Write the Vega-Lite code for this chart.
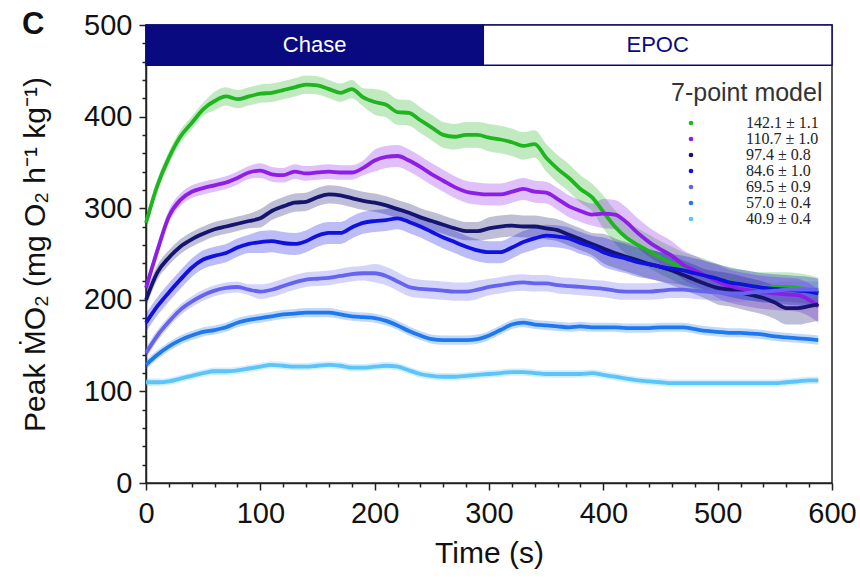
{
  "$schema": "https://vega.github.io/schema/vega-lite/v6.json",
  "width": 686,
  "height": 458,
  "autosize": {"type": "none"},
  "padding": {"left": 146, "top": 25, "right": 28, "bottom": 96},
  "background": "white",
  "config": {"font": "Liberation Sans", "view": {"stroke": "#222", "strokeWidth": 1.5}},
  "title": {"text": "C", "anchor": "start", "frame": "group", "fontSize": 31, "fontWeight": "bold", "font": "Liberation Sans", "color": "#111", "dx": -124, "dy": 30, "offset": 0},
  "resolve": {"axis": {"x": "independent", "y": "independent"}},
  "datasets": {
    "bands": [
      {"phase": "Chase", "start": 0, "end": 295},
      {"phase": "EPOC", "start": 295, "end": 600}
    ],
    "curves": [
      {"s":"a","t":0,"v":284,"lo":277,"hi":291},{"s":"a","t":10,"v":325,"lo":318,"hi":332},{"s":"a","t":20,"v":355,"lo":348,"hi":362},{"s":"a","t":30,"v":378,"lo":371,"hi":385},{"s":"a","t":40,"v":393,"lo":386,"hi":400},{"s":"a","t":50,"v":408,"lo":401,"hi":415},{"s":"a","t":60,"v":417,"lo":407,"hi":427},{"s":"a","t":70,"v":422,"lo":412,"hi":432},{"s":"a","t":80,"v":419,"lo":409,"hi":429},{"s":"a","t":90,"v":422,"lo":412,"hi":432},{"s":"a","t":100,"v":425,"lo":415,"hi":435},{"s":"a","t":110,"v":426,"lo":416,"hi":436},{"s":"a","t":120,"v":429,"lo":419,"hi":439},{"s":"a","t":130,"v":432,"lo":422,"hi":442},{"s":"a","t":140,"v":435,"lo":425,"hi":445},{"s":"a","t":150,"v":434,"lo":424,"hi":444},{"s":"a","t":160,"v":430,"lo":420,"hi":440},{"s":"a","t":170,"v":426,"lo":416,"hi":436},{"s":"a","t":180,"v":430,"lo":420,"hi":440},{"s":"a","t":190,"v":421,"lo":411,"hi":431},{"s":"a","t":200,"v":416,"lo":402,"hi":430},{"s":"a","t":210,"v":413,"lo":399,"hi":427},{"s":"a","t":220,"v":405,"lo":391,"hi":419},{"s":"a","t":230,"v":404,"lo":390,"hi":418},{"s":"a","t":240,"v":396,"lo":382,"hi":410},{"s":"a","t":250,"v":388,"lo":374,"hi":402},{"s":"a","t":260,"v":380,"lo":366,"hi":394},{"s":"a","t":270,"v":378,"lo":364,"hi":392},{"s":"a","t":280,"v":380,"lo":366,"hi":394},{"s":"a","t":290,"v":380,"lo":366,"hi":394},{"s":"a","t":300,"v":377,"lo":362,"hi":392},{"s":"a","t":310,"v":375,"lo":360,"hi":390},{"s":"a","t":320,"v":372,"lo":357,"hi":387},{"s":"a","t":330,"v":368,"lo":353,"hi":383},{"s":"a","t":340,"v":370,"lo":355,"hi":385},{"s":"a","t":350,"v":355,"lo":340,"hi":370},{"s":"a","t":360,"v":343,"lo":328,"hi":358},{"s":"a","t":370,"v":333,"lo":318,"hi":348},{"s":"a","t":380,"v":321,"lo":306,"hi":336},{"s":"a","t":390,"v":312,"lo":297,"hi":327},{"s":"a","t":400,"v":296,"lo":278,"hi":314},{"s":"a","t":410,"v":280,"lo":262,"hi":298},{"s":"a","t":420,"v":268,"lo":250,"hi":286},{"s":"a","t":430,"v":260,"lo":242,"hi":278},{"s":"a","t":440,"v":253,"lo":235,"hi":271},{"s":"a","t":450,"v":246,"lo":228,"hi":264},{"s":"a","t":460,"v":240,"lo":222,"hi":258},{"s":"a","t":470,"v":234,"lo":216,"hi":252},{"s":"a","t":480,"v":230,"lo":212,"hi":248},{"s":"a","t":490,"v":226,"lo":208,"hi":244},{"s":"a","t":500,"v":223,"lo":207,"hi":239},{"s":"a","t":510,"v":220,"lo":204,"hi":236},{"s":"a","t":520,"v":217,"lo":201,"hi":233},{"s":"a","t":530,"v":215,"lo":199,"hi":231},{"s":"a","t":540,"v":214,"lo":198,"hi":230},{"s":"a","t":550,"v":214,"lo":198,"hi":230},{"s":"a","t":560,"v":214,"lo":198,"hi":230},{"s":"a","t":570,"v":213,"lo":197,"hi":229},{"s":"a","t":580,"v":211,"lo":195,"hi":227},{"s":"a","t":588,"v":208,"lo":192,"hi":224},
      {"s":"b","t":0,"v":213,"lo":206,"hi":220},{"s":"b","t":10,"v":254,"lo":247,"hi":261},{"s":"b","t":20,"v":291,"lo":284,"hi":298},{"s":"b","t":30,"v":309,"lo":302,"hi":316},{"s":"b","t":40,"v":318,"lo":311,"hi":325},{"s":"b","t":50,"v":322,"lo":315,"hi":329},{"s":"b","t":60,"v":325,"lo":318,"hi":332},{"s":"b","t":70,"v":328,"lo":321,"hi":335},{"s":"b","t":80,"v":333,"lo":326,"hi":340},{"s":"b","t":90,"v":339,"lo":332,"hi":346},{"s":"b","t":100,"v":341,"lo":333,"hi":349},{"s":"b","t":110,"v":337,"lo":329,"hi":345},{"s":"b","t":120,"v":336,"lo":328,"hi":344},{"s":"b","t":130,"v":340,"lo":332,"hi":348},{"s":"b","t":140,"v":338,"lo":330,"hi":346},{"s":"b","t":150,"v":339,"lo":331,"hi":347},{"s":"b","t":160,"v":340,"lo":332,"hi":348},{"s":"b","t":170,"v":339,"lo":331,"hi":347},{"s":"b","t":180,"v":339,"lo":331,"hi":347},{"s":"b","t":190,"v":344,"lo":336,"hi":352},{"s":"b","t":200,"v":352,"lo":340,"hi":364},{"s":"b","t":210,"v":356,"lo":344,"hi":368},{"s":"b","t":220,"v":357,"lo":345,"hi":369},{"s":"b","t":230,"v":352,"lo":340,"hi":364},{"s":"b","t":240,"v":345,"lo":333,"hi":357},{"s":"b","t":250,"v":337,"lo":325,"hi":349},{"s":"b","t":260,"v":330,"lo":318,"hi":342},{"s":"b","t":270,"v":323,"lo":311,"hi":335},{"s":"b","t":280,"v":318,"lo":306,"hi":330},{"s":"b","t":290,"v":316,"lo":304,"hi":328},{"s":"b","t":300,"v":315,"lo":303,"hi":327},{"s":"b","t":310,"v":315,"lo":303,"hi":327},{"s":"b","t":320,"v":318,"lo":306,"hi":330},{"s":"b","t":330,"v":321,"lo":309,"hi":333},{"s":"b","t":340,"v":318,"lo":306,"hi":330},{"s":"b","t":350,"v":317,"lo":305,"hi":329},{"s":"b","t":360,"v":310,"lo":298,"hi":322},{"s":"b","t":370,"v":302,"lo":290,"hi":314},{"s":"b","t":380,"v":297,"lo":285,"hi":309},{"s":"b","t":390,"v":293,"lo":281,"hi":305},{"s":"b","t":400,"v":294,"lo":278,"hi":310},{"s":"b","t":410,"v":293,"lo":277,"hi":309},{"s":"b","t":420,"v":285,"lo":269,"hi":301},{"s":"b","t":430,"v":273,"lo":257,"hi":289},{"s":"b","t":440,"v":263,"lo":247,"hi":279},{"s":"b","t":450,"v":255,"lo":239,"hi":271},{"s":"b","t":460,"v":248,"lo":232,"hi":264},{"s":"b","t":470,"v":238,"lo":222,"hi":254},{"s":"b","t":480,"v":232,"lo":216,"hi":248},{"s":"b","t":490,"v":226,"lo":210,"hi":242},{"s":"b","t":500,"v":220,"lo":202,"hi":238},{"s":"b","t":510,"v":215,"lo":197,"hi":233},{"s":"b","t":520,"v":212,"lo":194,"hi":230},{"s":"b","t":530,"v":210,"lo":192,"hi":228},{"s":"b","t":540,"v":208,"lo":190,"hi":226},{"s":"b","t":550,"v":207,"lo":189,"hi":225},{"s":"b","t":560,"v":206,"lo":188,"hi":224},{"s":"b","t":570,"v":205,"lo":187,"hi":223},{"s":"b","t":580,"v":200,"lo":182,"hi":218},{"s":"b","t":588,"v":193,"lo":175,"hi":211},
      {"s":"c","t":0,"v":200,"lo":192,"hi":208},{"s":"c","t":10,"v":230,"lo":222,"hi":238},{"s":"c","t":20,"v":246,"lo":238,"hi":254},{"s":"c","t":30,"v":258,"lo":250,"hi":266},{"s":"c","t":40,"v":266,"lo":258,"hi":274},{"s":"c","t":50,"v":272,"lo":264,"hi":280},{"s":"c","t":60,"v":277,"lo":269,"hi":285},{"s":"c","t":70,"v":280,"lo":272,"hi":288},{"s":"c","t":80,"v":283,"lo":275,"hi":291},{"s":"c","t":90,"v":286,"lo":278,"hi":294},{"s":"c","t":100,"v":289,"lo":279,"hi":299},{"s":"c","t":110,"v":297,"lo":287,"hi":307},{"s":"c","t":120,"v":302,"lo":292,"hi":312},{"s":"c","t":130,"v":306,"lo":296,"hi":316},{"s":"c","t":140,"v":307,"lo":297,"hi":317},{"s":"c","t":150,"v":312,"lo":302,"hi":322},{"s":"c","t":160,"v":315,"lo":305,"hi":325},{"s":"c","t":170,"v":314,"lo":304,"hi":324},{"s":"c","t":180,"v":311,"lo":301,"hi":321},{"s":"c","t":190,"v":308,"lo":298,"hi":318},{"s":"c","t":200,"v":306,"lo":296,"hi":316},{"s":"c","t":210,"v":303,"lo":293,"hi":313},{"s":"c","t":220,"v":299,"lo":289,"hi":309},{"s":"c","t":230,"v":295,"lo":285,"hi":305},{"s":"c","t":240,"v":290,"lo":280,"hi":300},{"s":"c","t":250,"v":286,"lo":276,"hi":296},{"s":"c","t":260,"v":282,"lo":272,"hi":292},{"s":"c","t":270,"v":278,"lo":268,"hi":288},{"s":"c","t":280,"v":275,"lo":265,"hi":285},{"s":"c","t":290,"v":275,"lo":265,"hi":285},{"s":"c","t":300,"v":278,"lo":266,"hi":290},{"s":"c","t":310,"v":280,"lo":268,"hi":292},{"s":"c","t":320,"v":281,"lo":269,"hi":293},{"s":"c","t":330,"v":280,"lo":268,"hi":292},{"s":"c","t":340,"v":280,"lo":268,"hi":292},{"s":"c","t":350,"v":278,"lo":266,"hi":290},{"s":"c","t":360,"v":276,"lo":264,"hi":288},{"s":"c","t":370,"v":271,"lo":259,"hi":283},{"s":"c","t":380,"v":266,"lo":254,"hi":278},{"s":"c","t":390,"v":261,"lo":249,"hi":273},{"s":"c","t":400,"v":256,"lo":240,"hi":272},{"s":"c","t":410,"v":251,"lo":235,"hi":267},{"s":"c","t":420,"v":247,"lo":231,"hi":263},{"s":"c","t":430,"v":243,"lo":227,"hi":259},{"s":"c","t":440,"v":239,"lo":223,"hi":255},{"s":"c","t":450,"v":236,"lo":220,"hi":252},{"s":"c","t":460,"v":232,"lo":216,"hi":248},{"s":"c","t":470,"v":227,"lo":211,"hi":243},{"s":"c","t":480,"v":222,"lo":206,"hi":238},{"s":"c","t":490,"v":217,"lo":201,"hi":233},{"s":"c","t":500,"v":213,"lo":195,"hi":231},{"s":"c","t":510,"v":211,"lo":193,"hi":229},{"s":"c","t":520,"v":208,"lo":190,"hi":226},{"s":"c","t":530,"v":205,"lo":187,"hi":223},{"s":"c","t":540,"v":202,"lo":184,"hi":220},{"s":"c","t":550,"v":197,"lo":179,"hi":215},{"s":"c","t":560,"v":191,"lo":173,"hi":209},{"s":"c","t":570,"v":191,"lo":173,"hi":209},{"s":"c","t":580,"v":193,"lo":175,"hi":211},{"s":"c","t":588,"v":195,"lo":177,"hi":213},
      {"s":"d","t":0,"v":175,"lo":165,"hi":185},{"s":"d","t":10,"v":193,"lo":183,"hi":203},{"s":"d","t":20,"v":208,"lo":198,"hi":218},{"s":"d","t":30,"v":222,"lo":212,"hi":232},{"s":"d","t":40,"v":235,"lo":225,"hi":245},{"s":"d","t":50,"v":244,"lo":234,"hi":254},{"s":"d","t":60,"v":248,"lo":238,"hi":258},{"s":"d","t":70,"v":251,"lo":241,"hi":261},{"s":"d","t":80,"v":257,"lo":247,"hi":267},{"s":"d","t":90,"v":261,"lo":251,"hi":271},{"s":"d","t":100,"v":263,"lo":251,"hi":275},{"s":"d","t":110,"v":264,"lo":252,"hi":276},{"s":"d","t":120,"v":262,"lo":250,"hi":274},{"s":"d","t":130,"v":261,"lo":249,"hi":273},{"s":"d","t":140,"v":264,"lo":252,"hi":276},{"s":"d","t":150,"v":270,"lo":258,"hi":282},{"s":"d","t":160,"v":273,"lo":261,"hi":285},{"s":"d","t":170,"v":273,"lo":261,"hi":285},{"s":"d","t":180,"v":279,"lo":267,"hi":291},{"s":"d","t":190,"v":284,"lo":272,"hi":296},{"s":"d","t":200,"v":286,"lo":274,"hi":298},{"s":"d","t":210,"v":287,"lo":275,"hi":299},{"s":"d","t":220,"v":289,"lo":277,"hi":301},{"s":"d","t":230,"v":285,"lo":273,"hi":297},{"s":"d","t":240,"v":280,"lo":268,"hi":292},{"s":"d","t":250,"v":274,"lo":262,"hi":286},{"s":"d","t":260,"v":268,"lo":256,"hi":280},{"s":"d","t":270,"v":263,"lo":251,"hi":275},{"s":"d","t":280,"v":258,"lo":246,"hi":270},{"s":"d","t":290,"v":254,"lo":242,"hi":266},{"s":"d","t":300,"v":252,"lo":240,"hi":264},{"s":"d","t":310,"v":252,"lo":240,"hi":264},{"s":"d","t":320,"v":257,"lo":245,"hi":269},{"s":"d","t":330,"v":263,"lo":251,"hi":275},{"s":"d","t":340,"v":267,"lo":255,"hi":279},{"s":"d","t":350,"v":270,"lo":258,"hi":282},{"s":"d","t":360,"v":269,"lo":257,"hi":281},{"s":"d","t":370,"v":267,"lo":255,"hi":279},{"s":"d","t":380,"v":262,"lo":250,"hi":274},{"s":"d","t":390,"v":258,"lo":246,"hi":270},{"s":"d","t":400,"v":252,"lo":236,"hi":268},{"s":"d","t":410,"v":248,"lo":232,"hi":264},{"s":"d","t":420,"v":245,"lo":229,"hi":261},{"s":"d","t":430,"v":241,"lo":225,"hi":257},{"s":"d","t":440,"v":239,"lo":223,"hi":255},{"s":"d","t":450,"v":236,"lo":220,"hi":252},{"s":"d","t":460,"v":234,"lo":218,"hi":250},{"s":"d","t":470,"v":232,"lo":216,"hi":248},{"s":"d","t":480,"v":229,"lo":213,"hi":245},{"s":"d","t":490,"v":226,"lo":210,"hi":242},{"s":"d","t":500,"v":223,"lo":207,"hi":239},{"s":"d","t":510,"v":219,"lo":203,"hi":235},{"s":"d","t":520,"v":217,"lo":201,"hi":233},{"s":"d","t":530,"v":215,"lo":199,"hi":231},{"s":"d","t":540,"v":213,"lo":197,"hi":229},{"s":"d","t":550,"v":212,"lo":196,"hi":228},{"s":"d","t":560,"v":211,"lo":195,"hi":227},{"s":"d","t":570,"v":210,"lo":194,"hi":226},{"s":"d","t":580,"v":209,"lo":193,"hi":225},{"s":"d","t":588,"v":207,"lo":191,"hi":223},
      {"s":"e","t":0,"v":142,"lo":136,"hi":148},{"s":"e","t":10,"v":161,"lo":155,"hi":167},{"s":"e","t":20,"v":176,"lo":170,"hi":182},{"s":"e","t":30,"v":189,"lo":183,"hi":195},{"s":"e","t":40,"v":198,"lo":192,"hi":204},{"s":"e","t":50,"v":205,"lo":199,"hi":211},{"s":"e","t":60,"v":210,"lo":204,"hi":216},{"s":"e","t":70,"v":213,"lo":207,"hi":219},{"s":"e","t":80,"v":214,"lo":208,"hi":220},{"s":"e","t":90,"v":211,"lo":205,"hi":217},{"s":"e","t":100,"v":209,"lo":201,"hi":217},{"s":"e","t":110,"v":211,"lo":203,"hi":219},{"s":"e","t":120,"v":215,"lo":207,"hi":223},{"s":"e","t":130,"v":219,"lo":211,"hi":227},{"s":"e","t":140,"v":222,"lo":214,"hi":230},{"s":"e","t":150,"v":223,"lo":215,"hi":231},{"s":"e","t":160,"v":224,"lo":216,"hi":232},{"s":"e","t":170,"v":226,"lo":218,"hi":234},{"s":"e","t":180,"v":228,"lo":220,"hi":236},{"s":"e","t":190,"v":229,"lo":221,"hi":237},{"s":"e","t":200,"v":229,"lo":219,"hi":239},{"s":"e","t":210,"v":226,"lo":216,"hi":236},{"s":"e","t":220,"v":220,"lo":210,"hi":230},{"s":"e","t":230,"v":214,"lo":204,"hi":224},{"s":"e","t":240,"v":212,"lo":202,"hi":222},{"s":"e","t":250,"v":211,"lo":201,"hi":221},{"s":"e","t":260,"v":210,"lo":200,"hi":220},{"s":"e","t":270,"v":209,"lo":199,"hi":219},{"s":"e","t":280,"v":209,"lo":199,"hi":219},{"s":"e","t":290,"v":211,"lo":201,"hi":221},{"s":"e","t":300,"v":214,"lo":205,"hi":223},{"s":"e","t":310,"v":216,"lo":207,"hi":225},{"s":"e","t":320,"v":218,"lo":209,"hi":227},{"s":"e","t":330,"v":219,"lo":210,"hi":228},{"s":"e","t":340,"v":218,"lo":209,"hi":227},{"s":"e","t":350,"v":218,"lo":209,"hi":227},{"s":"e","t":360,"v":216,"lo":207,"hi":225},{"s":"e","t":370,"v":215,"lo":206,"hi":224},{"s":"e","t":380,"v":214,"lo":205,"hi":223},{"s":"e","t":390,"v":213,"lo":204,"hi":222},{"s":"e","t":400,"v":212,"lo":203,"hi":221},{"s":"e","t":410,"v":210,"lo":201,"hi":219},{"s":"e","t":420,"v":209,"lo":200,"hi":218},{"s":"e","t":430,"v":209,"lo":200,"hi":218},{"s":"e","t":440,"v":209,"lo":200,"hi":218},{"s":"e","t":450,"v":210,"lo":201,"hi":219},{"s":"e","t":460,"v":211,"lo":202,"hi":220},{"s":"e","t":470,"v":211,"lo":202,"hi":220},{"s":"e","t":480,"v":210,"lo":201,"hi":219},{"s":"e","t":490,"v":209,"lo":200,"hi":218},{"s":"e","t":500,"v":208,"lo":199,"hi":217},{"s":"e","t":510,"v":207,"lo":198,"hi":216},{"s":"e","t":520,"v":207,"lo":198,"hi":216},{"s":"e","t":530,"v":208,"lo":199,"hi":217},{"s":"e","t":540,"v":209,"lo":200,"hi":218},{"s":"e","t":550,"v":210,"lo":201,"hi":219},{"s":"e","t":560,"v":211,"lo":202,"hi":220},{"s":"e","t":570,"v":211,"lo":202,"hi":220},{"s":"e","t":580,"v":211,"lo":202,"hi":220},{"s":"e","t":588,"v":211,"lo":202,"hi":220},
      {"s":"f","t":0,"v":129,"lo":124,"hi":134},{"s":"f","t":10,"v":140,"lo":135,"hi":145},{"s":"f","t":20,"v":149,"lo":144,"hi":154},{"s":"f","t":30,"v":156,"lo":151,"hi":161},{"s":"f","t":40,"v":161,"lo":156,"hi":166},{"s":"f","t":50,"v":165,"lo":160,"hi":170},{"s":"f","t":60,"v":167,"lo":162,"hi":172},{"s":"f","t":70,"v":170,"lo":165,"hi":175},{"s":"f","t":80,"v":175,"lo":170,"hi":180},{"s":"f","t":90,"v":178,"lo":173,"hi":183},{"s":"f","t":100,"v":180,"lo":175,"hi":185},{"s":"f","t":110,"v":182,"lo":177,"hi":187},{"s":"f","t":120,"v":184,"lo":179,"hi":189},{"s":"f","t":130,"v":185,"lo":180,"hi":190},{"s":"f","t":140,"v":186,"lo":181,"hi":191},{"s":"f","t":150,"v":186,"lo":181,"hi":191},{"s":"f","t":160,"v":186,"lo":181,"hi":191},{"s":"f","t":170,"v":184,"lo":179,"hi":189},{"s":"f","t":180,"v":182,"lo":177,"hi":187},{"s":"f","t":190,"v":181,"lo":176,"hi":186},{"s":"f","t":200,"v":180,"lo":175,"hi":185},{"s":"f","t":210,"v":177,"lo":172,"hi":182},{"s":"f","t":220,"v":172,"lo":167,"hi":177},{"s":"f","t":230,"v":166,"lo":161,"hi":171},{"s":"f","t":240,"v":161,"lo":156,"hi":166},{"s":"f","t":250,"v":157,"lo":152,"hi":162},{"s":"f","t":260,"v":156,"lo":151,"hi":161},{"s":"f","t":270,"v":156,"lo":151,"hi":161},{"s":"f","t":280,"v":156,"lo":151,"hi":161},{"s":"f","t":290,"v":157,"lo":152,"hi":162},{"s":"f","t":300,"v":161,"lo":156,"hi":166},{"s":"f","t":310,"v":167,"lo":162,"hi":172},{"s":"f","t":320,"v":173,"lo":168,"hi":178},{"s":"f","t":330,"v":175,"lo":170,"hi":180},{"s":"f","t":340,"v":173,"lo":168,"hi":178},{"s":"f","t":350,"v":172,"lo":167,"hi":177},{"s":"f","t":360,"v":171,"lo":166,"hi":176},{"s":"f","t":370,"v":170,"lo":165,"hi":175},{"s":"f","t":380,"v":171,"lo":166,"hi":176},{"s":"f","t":390,"v":170,"lo":165,"hi":175},{"s":"f","t":400,"v":170,"lo":165,"hi":175},{"s":"f","t":410,"v":170,"lo":165,"hi":175},{"s":"f","t":420,"v":169,"lo":164,"hi":174},{"s":"f","t":430,"v":169,"lo":164,"hi":174},{"s":"f","t":440,"v":169,"lo":164,"hi":174},{"s":"f","t":450,"v":170,"lo":165,"hi":175},{"s":"f","t":460,"v":170,"lo":165,"hi":175},{"s":"f","t":470,"v":170,"lo":165,"hi":175},{"s":"f","t":480,"v":168,"lo":163,"hi":173},{"s":"f","t":490,"v":166,"lo":161,"hi":171},{"s":"f","t":500,"v":165,"lo":160,"hi":170},{"s":"f","t":510,"v":164,"lo":159,"hi":169},{"s":"f","t":520,"v":164,"lo":159,"hi":169},{"s":"f","t":530,"v":163,"lo":158,"hi":168},{"s":"f","t":540,"v":162,"lo":157,"hi":167},{"s":"f","t":550,"v":160,"lo":155,"hi":165},{"s":"f","t":560,"v":159,"lo":154,"hi":164},{"s":"f","t":570,"v":158,"lo":153,"hi":163},{"s":"f","t":580,"v":157,"lo":152,"hi":162},{"s":"f","t":588,"v":156,"lo":151,"hi":161},
      {"s":"g","t":0,"v":110,"lo":106,"hi":114},{"s":"g","t":10,"v":110,"lo":106,"hi":114},{"s":"g","t":20,"v":111,"lo":107,"hi":115},{"s":"g","t":30,"v":114,"lo":110,"hi":118},{"s":"g","t":40,"v":117,"lo":113,"hi":121},{"s":"g","t":50,"v":120,"lo":116,"hi":124},{"s":"g","t":60,"v":122,"lo":118,"hi":126},{"s":"g","t":70,"v":122,"lo":118,"hi":126},{"s":"g","t":80,"v":123,"lo":119,"hi":127},{"s":"g","t":90,"v":125,"lo":121,"hi":129},{"s":"g","t":100,"v":127,"lo":123,"hi":131},{"s":"g","t":110,"v":129,"lo":125,"hi":133},{"s":"g","t":120,"v":128,"lo":124,"hi":132},{"s":"g","t":130,"v":127,"lo":123,"hi":131},{"s":"g","t":140,"v":127,"lo":123,"hi":131},{"s":"g","t":150,"v":128,"lo":124,"hi":132},{"s":"g","t":160,"v":129,"lo":125,"hi":133},{"s":"g","t":170,"v":128,"lo":124,"hi":132},{"s":"g","t":180,"v":126,"lo":122,"hi":130},{"s":"g","t":190,"v":126,"lo":122,"hi":130},{"s":"g","t":200,"v":127,"lo":123,"hi":131},{"s":"g","t":210,"v":128,"lo":124,"hi":132},{"s":"g","t":220,"v":127,"lo":123,"hi":131},{"s":"g","t":230,"v":123,"lo":119,"hi":127},{"s":"g","t":240,"v":119,"lo":115,"hi":123},{"s":"g","t":250,"v":117,"lo":113,"hi":121},{"s":"g","t":260,"v":116,"lo":112,"hi":120},{"s":"g","t":270,"v":116,"lo":112,"hi":120},{"s":"g","t":280,"v":117,"lo":113,"hi":121},{"s":"g","t":290,"v":118,"lo":114,"hi":122},{"s":"g","t":300,"v":119,"lo":115,"hi":123},{"s":"g","t":310,"v":120,"lo":116,"hi":124},{"s":"g","t":320,"v":121,"lo":117,"hi":125},{"s":"g","t":330,"v":121,"lo":117,"hi":125},{"s":"g","t":340,"v":120,"lo":116,"hi":124},{"s":"g","t":350,"v":119,"lo":115,"hi":123},{"s":"g","t":360,"v":119,"lo":115,"hi":123},{"s":"g","t":370,"v":119,"lo":115,"hi":123},{"s":"g","t":380,"v":119,"lo":115,"hi":123},{"s":"g","t":390,"v":120,"lo":116,"hi":124},{"s":"g","t":400,"v":118,"lo":114,"hi":122},{"s":"g","t":410,"v":116,"lo":112,"hi":120},{"s":"g","t":420,"v":114,"lo":110,"hi":118},{"s":"g","t":430,"v":112,"lo":108,"hi":116},{"s":"g","t":440,"v":111,"lo":107,"hi":115},{"s":"g","t":450,"v":110,"lo":106,"hi":114},{"s":"g","t":460,"v":109,"lo":105,"hi":113},{"s":"g","t":470,"v":109,"lo":105,"hi":113},{"s":"g","t":480,"v":109,"lo":105,"hi":113},{"s":"g","t":490,"v":109,"lo":105,"hi":113},{"s":"g","t":500,"v":109,"lo":105,"hi":113},{"s":"g","t":510,"v":109,"lo":105,"hi":113},{"s":"g","t":520,"v":109,"lo":105,"hi":113},{"s":"g","t":530,"v":109,"lo":105,"hi":113},{"s":"g","t":540,"v":109,"lo":105,"hi":113},{"s":"g","t":550,"v":109,"lo":105,"hi":113},{"s":"g","t":560,"v":110,"lo":106,"hi":114},{"s":"g","t":570,"v":111,"lo":107,"hi":115},{"s":"g","t":580,"v":112,"lo":108,"hi":116},{"s":"g","t":588,"v":112,"lo":108,"hi":116}
    ]
  },
  "layer": [
    {
      "data": {"name": "bands"},
      "mark": {"type": "rect", "stroke": "#0a0a80", "strokeWidth": 1.5},
      "encoding": {
        "x": {"field": "start", "type": "quantitative", "scale": {"domain": [0, 600], "nice": false}, "axis": null},
        "x2": {"field": "end"},
        "y": {"datum": 456, "type": "quantitative", "scale": {"domain": [0, 500], "nice": false}, "axis": null},
        "y2": {"datum": 500},
        "fill": {"condition": {"test": "datum.phase === 'Chase'", "value": "#0a0a80"}, "value": "#ffffff"}
      }
    },
    {
      "data": {"name": "bands"},
      "transform": [{"calculate": "(datum.start + datum.end) / 2", "as": "mid"}],
      "mark": {"type": "text", "fontSize": 22, "font": "Liberation Sans", "baseline": "middle", "align": "center"},
      "encoding": {
        "x": {"field": "mid", "type": "quantitative", "axis": null},
        "y": {"datum": 478, "type": "quantitative", "axis": null},
        "text": {"field": "phase"},
        "color": {"condition": {"test": "datum.phase === 'Chase'", "value": "#ffffff"}, "value": "#0a0a80"}
      }
    },
    {
      "data": {"name": "curves"},
      "mark": {"type": "area", "opacity": 0.28, "interpolate": "monotone"},
      "encoding": {
        "x": {
          "field": "t", "type": "quantitative",
          "axis": {"orient": "bottom", "values": [20,40,60,80,120,140,160,180,220,240,260,280,320,340,360,380,420,440,460,480,520,540,560,580], "labels": false, "domain": false, "title": null, "grid": false, "tickSize": 4, "tickColor": "#222", "tickWidth": 1.5}
        },
        "y": {
          "field": "lo", "type": "quantitative",
          "axis": {"orient": "left", "values": [20,40,60,80,120,140,160,180,220,240,260,280,320,340,360,380,420,440,460,480], "labels": false, "domain": false, "title": null, "grid": false, "tickSize": 4, "tickColor": "#222", "tickWidth": 1.5}
        },
        "y2": {"field": "hi"},
        "color": {"field": "s", "type": "nominal"}
      }
    },
    {
      "data": {"name": "curves"},
      "mark": {"type": "line", "strokeWidth": 3.8, "interpolate": "monotone"},
      "encoding": {
        "x": {
          "field": "t", "type": "quantitative",
          "axis": {
            "orient": "bottom",
            "title": "Time (s)",
            "values": [0,100,200,300,400,500,600],
            "tickSize": 7,
            "labelFontSize": 29, "titleFontSize": 30, "titleFontWeight": "normal",
            "labelPadding": 9, "titlePadding": 10,
            "labelColor": "#111", "titleColor": "#111",
            "domainColor": "#222", "domainWidth": 1.5, "tickColor": "#222", "tickWidth": 1.5,
            "grid": false, "labelOverlap": false, "labelFlush": false
          }
        },
        "y": {
          "field": "v", "type": "quantitative",
          "axis": {
            "orient": "left",
            "title": "Peak ṀO₂ (mg O₂ h⁻¹ kg⁻¹)",
            "values": [0,100,200,300,400,500],
            "tickSize": 7,
            "labelFontSize": 29, "titleFontSize": 30, "titleFontWeight": "normal",
            "labelPadding": 7, "titlePadding": 33,
            "labelColor": "#111", "titleColor": "#111",
            "domainColor": "#222", "domainWidth": 1.5, "tickColor": "#222", "tickWidth": 1.5,
            "grid": false, "labelOverlap": false, "labelFlush": false
          }
        },
        "color": {
          "field": "s", "type": "nominal",
          "scale": {"domain": ["a","b","c","d","e","f","g"], "range": ["#1fb51f","#8c1ee8","#151570","#1010e0","#6464f0","#1e78f0","#5cc4f8"]},
          "legend": {
            "orient": "none", "legendX": 525, "legendY": 56,
            "title": "7-point model", "titleFontSize": 25, "titleFontWeight": "normal", "titleColor": "#333", "titleFont": "Liberation Sans",
            "titlePadding": 9,
            "labelFont": "Liberation Serif", "labelFontSize": 16, "labelColor": "#222",
            "labelExpr": "{'a':'142.1 ± 1.1','b':'110.7 ± 1.0','c':'97.4 ± 0.8','d':'84.6 ± 1.0','e':'69.5 ± 0.9','f':'57.0 ± 0.4','g':'40.9 ± 0.4'}[datum.value]",
            "symbolType": "circle", "symbolSize": 22, "symbolStrokeWidth": 0, "symbolOffset": 12, "labelOffset": 47, "rowPadding": 0,
            "symbolOpacity": 1,
            "encode": {"symbols": {"update": {"fill": {"field": "value", "scale": "color"}, "stroke": {"value": "transparent"}, "opacity": {"value": 1}}}}
          }
        }
      }
    }
  ]
}
